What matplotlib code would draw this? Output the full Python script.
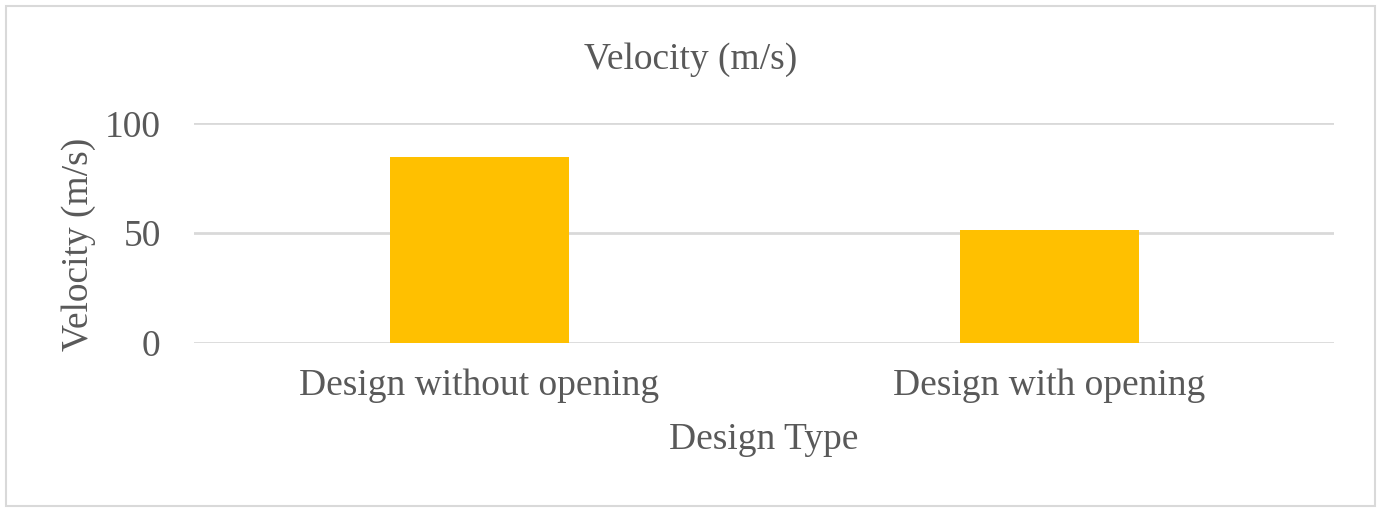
import matplotlib.pyplot as plt
from matplotlib.patches import Rectangle

# Datos
design_types = ["Design without opening", "Design with opening"]
velocity = [84.5, 51.5]
y_ticks = [0, 50, 100]

TEXT_COLOR = "#595959"
GRID_COLOR = "#D9D9D9"
BAR_COLOR = "#FFC000"
FONT_SIZE = 27

plt.rcParams["font.family"] = ["Liberation Serif", "DejaVu Serif"]

fig = plt.figure(figsize=(13.81, 5.12), dpi=100)
ax = fig.add_axes([0.1405, 0.331, 0.8255, 0.428])

x = range(len(design_types))
ax.bar(x, velocity, width=0.314, color=BAR_COLOR, zorder=3)

ax.set_xlim(-0.5, len(design_types) - 0.5)
ax.set_ylim(0, 100)
ax.set_yticks(y_ticks)
ax.set_xticks(list(x))
ax.set_xticklabels(design_types)

ax.yaxis.grid(True, color=GRID_COLOR, linewidth=2)
ax.set_axisbelow(True)
for side in ("top", "right", "left", "bottom"):
    ax.spines[side].set_visible(False)
ax.tick_params(axis="both", length=0, labelsize=FONT_SIZE, colors=TEXT_COLOR)
ax.tick_params(axis="x", pad=19)
ax.tick_params(axis="y", pad=24)

ax.set_xlabel("Design Type", fontsize=FONT_SIZE, color=TEXT_COLOR, labelpad=14)
ax.set_ylabel("Velocity (m/s)", fontsize=FONT_SIZE, color=TEXT_COLOR,
              labelpad=6, y=0.45)
fig.text(0.5, 1 - 60 / 512, "Velocity (m/s)", ha="center", va="center",
         fontsize=FONT_SIZE, color=TEXT_COLOR)

# Marco exterior del gráfico
fig.patches.append(Rectangle((6 / 1381, 6 / 512), 1369 / 1381, 500 / 512,
                             transform=fig.transFigure, fill=False,
                             edgecolor=GRID_COLOR, linewidth=1.5))

fig.savefig("out.png", dpi=100)
